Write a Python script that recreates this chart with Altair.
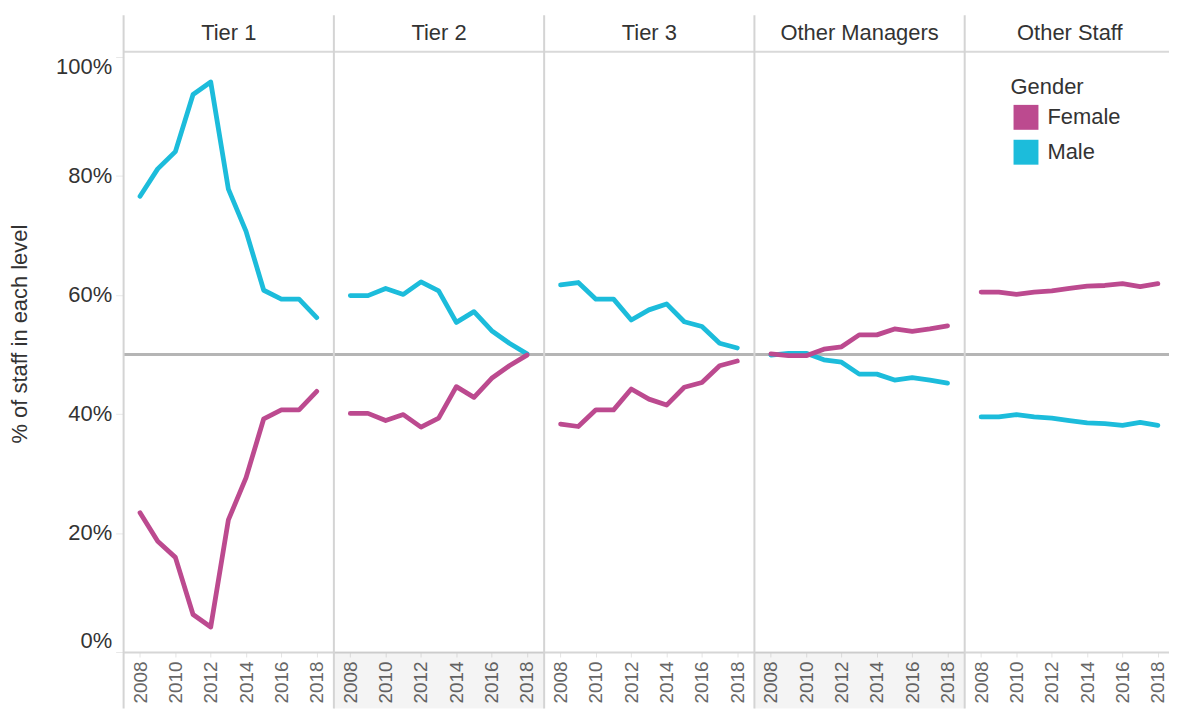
import altair as alt
import pandas as pd

years = list(range(2008, 2019))
levels = ["Tier 1", "Tier 2", "Tier 3", "Other Managers", "Other Staff"]

female_t1 = [23.4, 18.6, 15.9, 6.3, 4.2, 22.2, 29.3, 39.2, 40.7, 40.7, 43.8]
male_t1 = [76.6, 81.2, 84.1, 93.7, 95.8, 77.8, 70.7, 60.8, 59.3, 59.3, 56.2]
female_t2 = [40.1, 40.1, 38.9, 39.9, 37.8, 39.3, 44.6, 42.8, 46.0, 48.1, 49.9]
male_t2 = [59.9, 59.9, 61.1, 60.1, 62.2, 60.7, 55.4, 57.2, 54.0, 51.9, 50.1]
female_t3 = [38.3, 37.9, 40.7, 40.7, 44.2, 42.5, 41.5, 44.5, 45.3, 48.1, 48.9]
male_t3 = [61.7, 62.1, 59.3, 59.3, 55.8, 57.5, 58.5, 55.5, 54.7, 51.9, 51.1]
female_om = [50.1, 49.8, 49.8, 50.9, 51.3, 53.3, 53.3, 54.3, 53.9, 54.3, 54.8]
male_om = [49.9, 50.2, 50.2, 49.1, 48.7, 46.7, 46.7, 45.7, 46.1, 45.7, 45.2]
female_os = [60.5, 60.5, 60.1, 60.5, 60.7, 61.1, 61.5, 61.6, 61.9, 61.4, 61.9]
male_os = [39.5, 39.5, 39.9, 39.5, 39.3, 38.9, 38.5, 38.4, 38.1, 38.6, 38.1]

female = dict(zip(levels, [female_t1, female_t2, female_t3, female_om, female_os]))
male = dict(zip(levels, [male_t1, male_t2, male_t3, male_om, male_os]))
banded = ["Tier 2", "Other Managers"]

rows = []
for lv in levels:
    for g, src in (("Male", male), ("Female", female)):
        for yr, v in zip(years, src[lv]):
            rows.append({"level": lv, "gender": g, "year": yr, "pct": v,
                         "band": lv in banded})
df = pd.DataFrame(rows)

FONT = "Liberation Sans"
W = 211
H = 639
YMAX = 107.03
F_COL = "#bc4a8f"
M_COL = "#1cbcdb"

x_enc = alt.X(
    "year:Q",
    scale=alt.Scale(domain=[2007.07, 2018.97], nice=False, zero=False),
    axis=alt.Axis(
        values=[2008, 2010, 2012, 2014, 2016, 2018], format="d",
        labelAngle=270, labelAlign="right", labelBaseline="middle",
        labelFontSize=19, labelColor="#666", labelPadding=4,
        tickSize=5, tickColor="#e4e4e4", domainColor="#d6d6d6", domainWidth=2,
        grid=False, title=None,
    ),
)
y_enc = alt.Y(
    "pct:Q",
    scale=alt.Scale(domain=[0, YMAX], nice=False, zero=False),
    axis=alt.Axis(
        values=[0, 20, 40, 60, 80, 100], labelExpr="datum.value + '%'",
        labelBaseline=alt.expr("datum.value == 100 ? 'top' : (datum.value == 0 ? 'bottom' : 'middle')"),
        labelFontSize=22, labelColor="#333", labelPadding=4,
        tickSize=8, tickColor="#e8e8e8", domain=False,
        gridColor="#efefef", gridWidth=2,
        title="% of staff in each level", titleFontSize=22, titleFontWeight="normal",
        titleColor="#333", titlePadding=24,
    ),
)

one_row = "datum.year == 2008 && datum.gender == 'Female'"

band = alt.Chart().mark_rect(color="#000000", opacity=0.045).encode(
    x=alt.value(0), x2=alt.value(W), y=alt.datum(0), y2=alt.datum(-9.5)
).transform_filter(one_row + " && datum.band")

half = alt.Chart().mark_rule(color="#b5b5b5", strokeWidth=3).encode(
    y=alt.datum(50)).transform_filter(one_row)

lines = alt.Chart().mark_line(strokeWidth=4.8, strokeCap="round", strokeJoin="round").encode(
    x=x_enc, y=y_enc,
    color=alt.Color(
        "gender:N",
        scale=alt.Scale(domain=["Female", "Male"], range=[F_COL, M_COL]),
        legend=alt.Legend(
            orient="none", legendX=890, legendY=62, title="Gender",
            titleFontSize=22, titleFontWeight="normal", titleColor="#333", titleFont=FONT,
            labelFontSize=22, labelColor="#333", labelFont=FONT,
            symbolType="square", symbolSize=625, symbolStrokeWidth=0, symbolOpacity=1,
            symbolOffset=3, rowPadding=10, titlePadding=6, labelOffset=9,
        ),
    ),
    detail="gender:N",
)

swatch = alt.Chart().mark_square(size=0, opacity=1).encode(
    x=x_enc, y=y_enc, color=alt.Color("gender:N")
).transform_filter("datum.year == 2008")

header_line = alt.Chart().mark_rule(color="#d9d9d9", strokeWidth=2).encode(
    y=alt.datum(100.9)).transform_filter(one_row)

sep = alt.Chart().mark_rule(color="#d4d4d4", strokeWidth=2).encode(
    x=alt.value(0), y=alt.datum(YMAX), y2=alt.datum(-9.5)).transform_filter(one_row)

header_text = alt.Chart().mark_text(fontSize=22, color="#333", font=FONT, baseline="middle", align="center").encode(
    x=alt.value(W / 2), y=alt.value(18), text="level:N").transform_filter(one_row)

layered = alt.layer(band, half, lines, swatch, header_line, sep, header_text).properties(width=W, height=H)

chart = layered.facet(
    column=alt.Column("level:N", sort=levels, header=None),
    data=df,
    spacing=0,
    bounds="flush",
).properties(
    padding={"left": 0, "top": 4, "right": -8, "bottom": 0},
).configure(font=FONT).configure_view(stroke="transparent")

chart.save("out.html", embed_options={"renderer": "svg", "actions": False})
